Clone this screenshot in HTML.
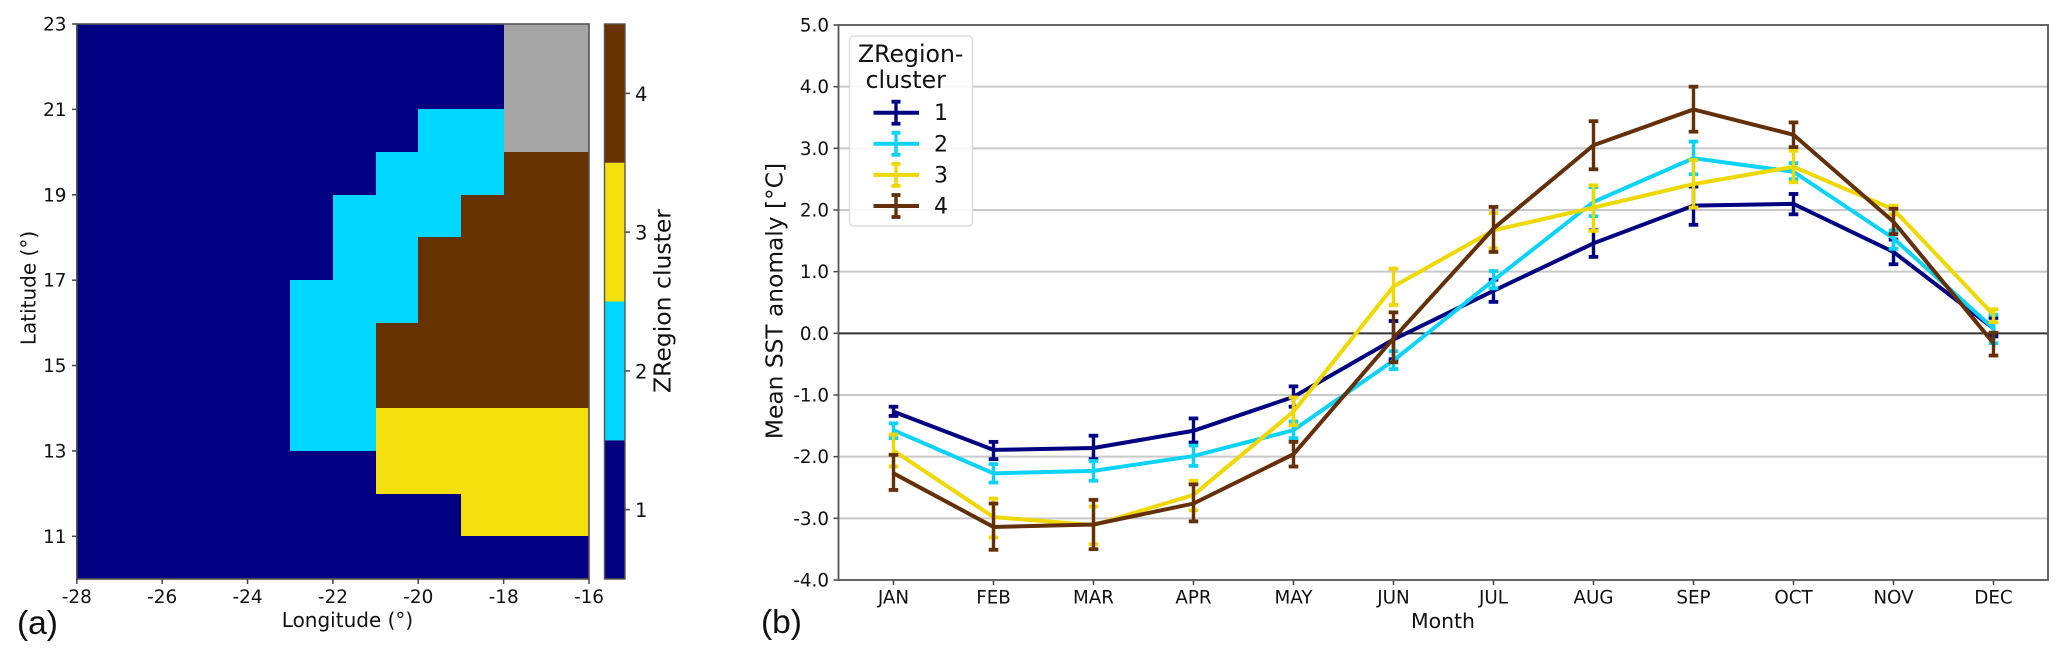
<!DOCTYPE html>
<html lang="en">
<head>
<meta charset="utf-8">
<title>ZRegion clusters and mean SST anomaly</title>
<style>
html,body{margin:0;padding:0;background:#fff;}
svg{display:block;font-family:"DejaVu Sans","Liberation Sans",sans-serif;fill:#111;}
</style>
</head>
<body>
<svg id="fig" xmlns="http://www.w3.org/2000/svg" width="2067" height="661" viewBox="0 0 2067 661">
  <rect width="2067" height="661" fill="#fff"/>
  <g id="panelA"></g>
  <g id="panelB"></g>
  <text x="17" y="634" font-family="'Liberation Sans',sans-serif" font-size="33.5">(a)</text>
  <text x="761" y="633" font-family="'Liberation Sans',sans-serif" font-size="33.5">(b)</text>
  <text x="347.5" y="627" font-size="20" text-anchor="middle">Longitude (°)</text>
  <text transform="translate(35.5,288) rotate(-90)" font-size="20" text-anchor="middle">Latitude (°)</text>
  <text transform="translate(670.5,301) rotate(-90)" font-size="23.5" text-anchor="middle">ZRegion cluster</text>
  <text x="1443" y="628" font-size="20.4" text-anchor="middle">Month</text>
  <text transform="translate(782.5,301) rotate(-90)" font-size="23.3" text-anchor="middle">Mean SST anomaly [°C]</text>
</svg>
<script>
// ---------- Panel (a) data ----------
const lonTicks = [-28, -26, -24, -22, -20, -18, -16];
const latTicks = [11, 13, 15, 17, 19, 21, 23];
const lonEdges = [-28, -27, -26, -25, -24, -23, -22, -21, -20, -19, -18, -17];
const latEdges = [22, 21, 20, 19, 18, 17, 16, 15, 14, 13, 12, 11, 10];
// cluster id per cell, north to south; 0 = no data
const clusterGrid = [
  [1,1,1,1,1,1,1,1,1,1,0,0],
  [1,1,1,1,1,1,1,1,1,1,0,0],
  [1,1,1,1,1,1,1,1,2,2,0,0],
  [1,1,1,1,1,1,1,2,2,2,4,4],
  [1,1,1,1,1,1,2,2,2,4,4,4],
  [1,1,1,1,1,1,2,2,4,4,4,4],
  [1,1,1,1,1,2,2,2,4,4,4,4],
  [1,1,1,1,1,2,2,4,4,4,4,4],
  [1,1,1,1,1,2,2,4,4,4,4,4],
  [1,1,1,1,1,2,2,3,3,3,3,3],
  [1,1,1,1,1,1,1,3,3,3,3,3],
  [1,1,1,1,1,1,1,1,1,3,3,3],
  [1,1,1,1,1,1,1,1,1,1,1,1]
];
const clusterIds = [1, 2, 3, 4];

// ---------- Panel (b) data ----------
const months = ["JAN","FEB","MAR","APR","MAY","JUN","JUL","AUG","SEP","OCT","NOV","DEC"];
const sstTicks = [-4, -3, -2, -1, 0, 1, 2, 3, 4, 5];
const sstTickLabels = ["-4.0","-3.0","-2.0","-1.0","0.0","1.0","2.0","3.0","4.0","5.0"];

const mean1 = [-1.27,-1.89,-1.86,-1.58,-1.03,-0.10,0.69,1.46,2.07,2.10,1.32,0.08];
const high1 = [-1.19,-1.76,-1.66,-1.38,-0.86,0.20,0.87,1.67,2.38,2.26,1.52,0.25];
const low1  = [-1.34,-2.04,-2.04,-1.77,-1.19,-0.42,0.51,1.24,1.76,1.93,1.12,-0.05];

const mean2 = [-1.57,-2.27,-2.23,-1.99,-1.57,-0.44,0.86,2.13,2.84,2.62,1.54,0.08];
const high2 = [-1.46,-2.12,-2.07,-1.82,-1.43,-0.29,1.01,2.37,3.11,2.76,1.67,0.30];
const low2  = [-1.70,-2.42,-2.39,-2.15,-1.70,-0.58,0.73,1.90,2.58,2.50,1.37,-0.16];

const mean3 = [-1.90,-2.98,-3.11,-2.62,-1.27,0.76,1.67,2.04,2.42,2.70,2.01,0.30];
const high3 = [-1.64,-2.68,-2.81,-2.39,-1.04,1.05,1.95,2.40,2.81,2.96,2.07,0.39];
const low3  = [-2.16,-3.31,-3.42,-2.87,-1.49,0.46,1.38,1.66,2.04,2.45,1.93,0.18];

const mean4 = [-2.27,-3.14,-3.10,-2.76,-1.96,-0.08,1.70,3.05,3.63,3.22,1.81,-0.16];
const high4 = [-1.97,-2.76,-2.70,-2.45,-1.76,0.34,2.05,3.44,4.00,3.42,2.02,0.01];
const low4  = [-2.54,-3.51,-3.50,-3.05,-2.16,-0.47,1.32,2.66,3.27,3.02,1.61,-0.36];

const NS = "http://www.w3.org/2000/svg";
const colors = {0:"#a5a5a5",1:"#000080",2:"#00d6ff",3:"#f2df0c",4:"#653200"};
const lineColors = {1:"#000080",2:"#0cd2f7",3:"#efd800",4:"#63300a"};

function make(parent, tag, attrs, txt) {
  const el = document.createElementNS(NS, tag);
  for (const k in attrs) el.setAttribute(k, attrs[k]);
  if (txt !== undefined) el.textContent = txt;
  parent.appendChild(el);
  return el;
}

// axis functions
const xLon = v => 76.8 + (v + 28) * (589 - 76.8) / 12;
const yLat = v => 24 + (23 - v) * (579 - 24) / 13;
const yBar = v => 579 - (v - 0.5) * (579 - 24) / 4;
const xMonth = i => 893.5 + i * 100;
const ySst = v => 25 + (5 - v) * (580 - 25) / 9;

// ---------- Panel (a) ----------
const A = document.getElementById("panelA");
const heat = make(A, "g", {"shape-rendering":"crispEdges"});


clusterGrid.forEach((row, r) => {
  row.forEach((id, c) => {
    const x0 = Math.round(xLon(lonEdges[c])), x1 = Math.round(xLon(lonEdges[c] + 1));
    const y1 = Math.round(yLat(latEdges[r])), y0 = Math.round(yLat(latEdges[r] + 1));
    const cell = make(heat, "rect", {x:x0, y:y0, width:x1-x0, height:y1-y0, fill:colors[id]});
    
    
  });
});
const frameA = make(A, "rect", {x:xLon(-28), y:24, width:xLon(-16)-xLon(-28), height:555, fill:"none", stroke:"#555", "stroke-width":1.6});



lonTicks.forEach(v => {
  const t = make(A, "line", {x1:xLon(v), x2:xLon(v), y1:579, y2:584, stroke:"#444", "stroke-width":1.5});
  
  
  const l = make(A, "text", {x:xLon(v), y:603, "font-size":18.4, "text-anchor":"middle"}, String(v));
  
  
});
latTicks.forEach(v => {
  const t = make(A, "line", {x1:72, x2:xLon(-28), y1:yLat(v), y2:yLat(v), stroke:"#444", "stroke-width":1.5});
  
  
  const l = make(A, "text", {x:66.5, y:yLat(v)+6.5, "font-size":18.4, "text-anchor":"end"}, String(v));
  
  
});

// colorbar
clusterIds.forEach(id => {
  const top = yBar(id + 0.5), bot = yBar(id - 0.5);
  const seg = make(A, "rect", {x:604.5, y:top, width:20.5, height:bot-top, fill:colors[id]});
  
  
  const t = make(A, "line", {x1:625, x2:630, y1:yBar(id), y2:yBar(id), stroke:"#444", "stroke-width":1.5});
  
  
  const l = make(A, "text", {x:635, y:yBar(id)+7.5, "font-size":19.5}, String(id));
  
  
});
const frameC = make(A, "rect", {x:604.5, y:24, width:20.5, height:555, fill:"none", stroke:"#555", "stroke-width":1.4});



// ---------- Panel (b) ----------
const B = document.getElementById("panelB");
const plotL = 838.5, plotR = 2048;

sstTicks.forEach((v, i) => {
  if (v !== 5 && v !== -4) {
    const g = make(B, "line", {x1:plotL, x2:plotR, y1:ySst(v), y2:ySst(v), stroke:v === 0 ? "#333" : "#c9c9c9", "stroke-width":2});
    
    
  }
  const t = make(B, "line", {x1:833.5, x2:plotL, y1:ySst(v), y2:ySst(v), stroke:"#444", "stroke-width":1.5});
  
  
  const l = make(B, "text", {x:829, y:ySst(v)+6.5, "font-size":18.3, "text-anchor":"end"}, sstTickLabels[i]);
  
  
});
months.forEach((m, i) => {
  const t = make(B, "line", {x1:xMonth(i), x2:xMonth(i), y1:580, y2:585, stroke:"#444", "stroke-width":1.5});
  
  
  const l = make(B, "text", {x:xMonth(i), y:603.5, "font-size":18.3, "text-anchor":"middle"}, m);
  
  
});

function drawSeries(id, means, highs, lows) {
  const g = make(B, "g", {});
  
  
  const col = lineColors[id];
  means.forEach((m, i) => {
    const x = xMonth(i);
    const bar = make(g, "line", {x1:x, x2:x, y1:ySst(highs[i]), y2:ySst(lows[i]), stroke:col, "stroke-width":3.4});
    
    
    const capHigh = make(g, "line", {x1:x-4.8, x2:x+4.8, y1:ySst(highs[i]), y2:ySst(highs[i]), stroke:col, "stroke-width":3.8});
    
    
    const capLow = make(g, "line", {x1:x-4.8, x2:x+4.8, y1:ySst(lows[i]), y2:ySst(lows[i]), stroke:col, "stroke-width":3.8});
    
    
  });
  const pts = means.map((m, i) => xMonth(i) + "," + ySst(m).toFixed(2)).join(" ");
  const line = make(g, "polyline", {points:pts, fill:"none", stroke:col, "stroke-width":4, "stroke-linejoin":"miter"});
  
  
}
drawSeries(1, mean1, high1, low1);
drawSeries(2, mean2, high2, low2);
drawSeries(3, mean3, high3, low3);
drawSeries(4, mean4, high4, low4);

const frameB = make(B, "rect", {x:plotL, y:25, width:plotR-plotL, height:555, fill:"none", stroke:"#555", "stroke-width":1.8});



// legend
const leg = make(B, "g", {});


const legBox = make(leg, "rect", {x:849.5, y:36, width:123, height:190, rx:4, fill:"rgba(255,255,255,0.85)", stroke:"#dcdcdc", "stroke-width":1.5});


const legT1 = make(leg, "text", {x:910.7, y:62, "font-size":23.6, "text-anchor":"middle"}, "ZRegion-");


const legT2 = make(leg, "text", {x:905.7, y:88, "font-size":23.6, "text-anchor":"middle"}, "cluster");


clusterIds.forEach((id, i) => {
  const y = 112.7 + i * 31.1, col = lineColors[id];
  const entry = make(leg, "g", {});
  
  
  make(entry, "line", {x1:873.5, x2:919, y1:y, y2:y, stroke:col, "stroke-width":4});
  make(entry, "line", {x1:896, x2:896, y1:y-11, y2:y+11, stroke:col, "stroke-width":3.4});
  make(entry, "line", {x1:891.5, x2:900.5, y1:y-11, y2:y-11, stroke:col, "stroke-width":3.8});
  make(entry, "line", {x1:891.5, x2:900.5, y1:y+11, y2:y+11, stroke:col, "stroke-width":3.8});
  make(entry, "text", {x:934, y:y+7.5, "font-size":22}, String(id));
});
</script>
</body>
</html>
